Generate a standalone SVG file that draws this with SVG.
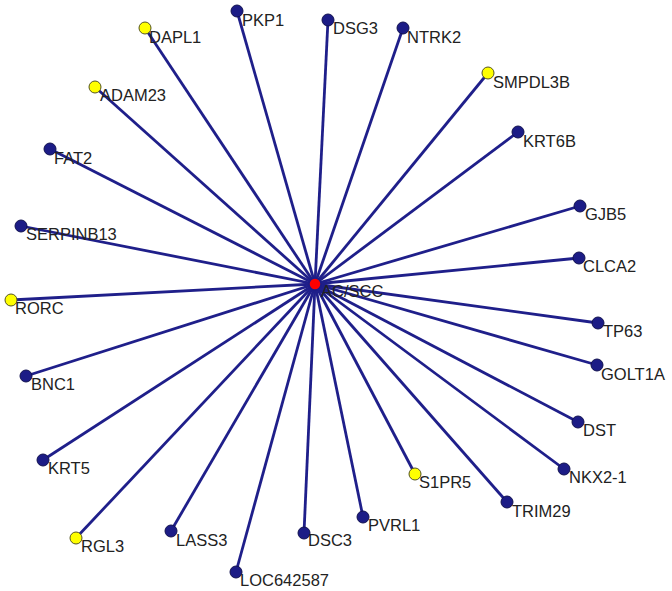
<svg xmlns="http://www.w3.org/2000/svg" width="672" height="591" viewBox="0 0 672 591">
<style>
.e{stroke:#1f1f8a;stroke-width:2.8;fill:none}
.b{fill:#1c1c86;stroke:#111150;stroke-width:1}
.y{fill:#ffff00;stroke:#555522;stroke-width:1}
.r{fill:#ff0000;stroke:#1c1c86;stroke-width:1.5}
text{font-family:"Liberation Sans",Arial,sans-serif;font-size:16.5px;fill:#222}
</style>
<rect width="672" height="591" fill="#fff"/>
<g id="edges">
<line class="e" x1="315" y1="284" x2="145" y2="28"/>
<line class="e" x1="315" y1="284" x2="237" y2="11"/>
<line class="e" x1="315" y1="284" x2="328" y2="20"/>
<line class="e" x1="315" y1="284" x2="403" y2="28"/>
<line class="e" x1="315" y1="284" x2="488" y2="73"/>
<line class="e" x1="315" y1="284" x2="518" y2="132"/>
<line class="e" x1="315" y1="284" x2="95" y2="87"/>
<line class="e" x1="315" y1="284" x2="50" y2="149"/>
<line class="e" x1="315" y1="284" x2="21" y2="226"/>
<line class="e" x1="315" y1="284" x2="11" y2="300"/>
<line class="e" x1="315" y1="284" x2="26" y2="376"/>
<line class="e" x1="315" y1="284" x2="580" y2="206"/>
<line class="e" x1="315" y1="284" x2="579" y2="258"/>
<line class="e" x1="315" y1="284" x2="598" y2="323"/>
<line class="e" x1="315" y1="284" x2="597" y2="365"/>
<line class="e" x1="315" y1="284" x2="43" y2="460"/>
<line class="e" x1="315" y1="284" x2="76" y2="538"/>
<line class="e" x1="315" y1="284" x2="171" y2="531"/>
<line class="e" x1="315" y1="284" x2="236" y2="572"/>
<line class="e" x1="315" y1="284" x2="304" y2="533"/>
<line class="e" x1="315" y1="284" x2="578" y2="422"/>
<line class="e" x1="315" y1="284" x2="564" y2="469"/>
<line class="e" x1="315" y1="284" x2="415" y2="474"/>
<line class="e" x1="315" y1="284" x2="507" y2="502"/>
<line class="e" x1="315" y1="284" x2="363" y2="517"/>
</g>
<g id="DAPL1"><circle class="y" cx="145" cy="28" r="6"/><text x="149" y="43">DAPL1</text></g>
<g id="PKP1"><circle class="b" cx="237" cy="11" r="6"/><text x="242" y="26">PKP1</text></g>
<g id="DSG3"><circle class="b" cx="328" cy="20" r="6"/><text x="333" y="34">DSG3</text></g>
<g id="NTRK2"><circle class="b" cx="403" cy="28" r="6"/><text x="407" y="43">NTRK2</text></g>
<g id="SMPDL3B"><circle class="y" cx="488" cy="73" r="6"/><text x="493" y="88">SMPDL3B</text></g>
<g id="KRT6B"><circle class="b" cx="518" cy="132" r="6"/><text x="523" y="147">KRT6B</text></g>
<g id="ADAM23"><circle class="y" cx="95" cy="87" r="6"/><text x="100" y="101">ADAM23</text></g>
<g id="FAT2"><circle class="b" cx="50" cy="149" r="6"/><text x="54" y="164">FAT2</text></g>
<g id="SERPINB13"><circle class="b" cx="21" cy="226" r="6"/><text x="26" y="240">SERPINB13</text></g>
<g id="RORC"><circle class="y" cx="11" cy="300" r="6"/><text x="15" y="314">RORC</text></g>
<g id="BNC1"><circle class="b" cx="26" cy="376" r="6"/><text x="31" y="390">BNC1</text></g>
<g id="GJB5"><circle class="b" cx="580" cy="206" r="6"/><text x="585" y="220">GJB5</text></g>
<g id="CLCA2"><circle class="b" cx="579" cy="258" r="6"/><text x="583" y="272">CLCA2</text></g>
<g id="TP63"><circle class="b" cx="598" cy="323" r="6"/><text x="603" y="337">TP63</text></g>
<g id="GOLT1A"><circle class="b" cx="597" cy="365" r="6"/><text x="601" y="380">GOLT1A</text></g>
<g id="KRT5"><circle class="b" cx="43" cy="460" r="6"/><text x="48" y="474">KRT5</text></g>
<g id="RGL3"><circle class="y" cx="76" cy="538" r="6"/><text x="81" y="552">RGL3</text></g>
<g id="LASS3"><circle class="b" cx="171" cy="531" r="6"/><text x="176" y="546">LASS3</text></g>
<g id="LOC642587"><circle class="b" cx="236" cy="572" r="6"/><text x="240" y="586">LOC642587</text></g>
<g id="DSC3"><circle class="b" cx="304" cy="533" r="6"/><text x="308" y="546">DSC3</text></g>
<g id="DST"><circle class="b" cx="578" cy="422" r="6"/><text x="583" y="436">DST</text></g>
<g id="NKX2-1"><circle class="b" cx="564" cy="469" r="6"/><text x="569" y="483">NKX2-1</text></g>
<g id="S1PR5"><circle class="y" cx="415" cy="474" r="6"/><text x="419" y="488">S1PR5</text></g>
<g id="TRIM29"><circle class="b" cx="507" cy="502" r="6"/><text x="512" y="517">TRIM29</text></g>
<g id="PVRL1"><circle class="b" cx="363" cy="517" r="6"/><text x="368" y="531">PVRL1</text></g>
<g id="ACSCC"><circle class="r" cx="315" cy="284" r="6"/><text x="321" y="297">AC/SCC</text></g>
</svg>
